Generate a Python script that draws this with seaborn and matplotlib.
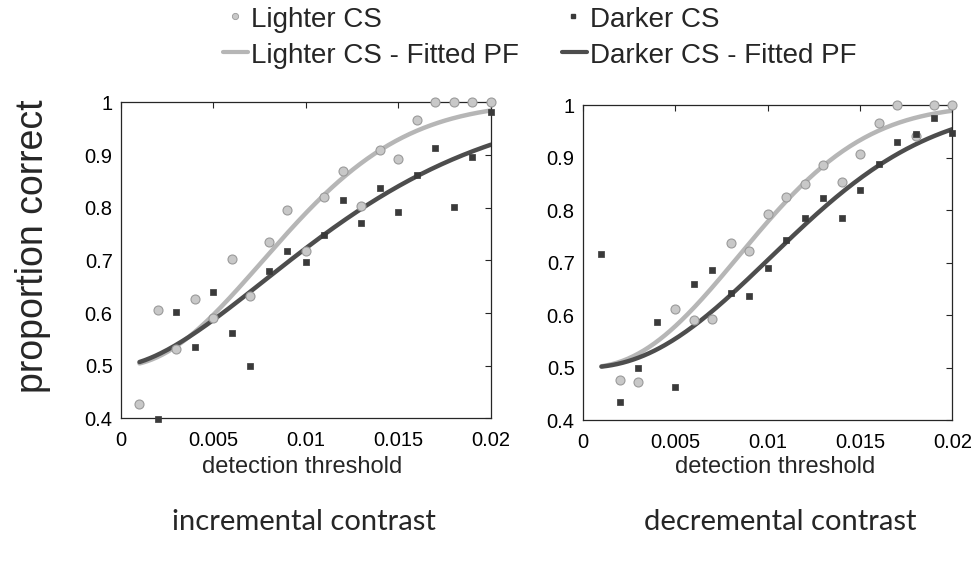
import numpy as np
import pandas as pd
import matplotlib
matplotlib.use("Agg")
import matplotlib.pyplot as plt
import seaborn as sns
from matplotlib.ticker import FuncFormatter
from matplotlib.lines import Line2D

sns.set_style("white")
plt.rcParams['font.family'] = ['Liberation Sans', 'DejaVu Sans']

# ---- data ----
thr = [0.001, 0.002, 0.003, 0.004, 0.005, 0.006, 0.007, 0.008, 0.009, 0.010,
       0.011, 0.012, 0.013, 0.014, 0.015, 0.016, 0.017, 0.018, 0.019, 0.020]

# incremental contrast
inc_light_x = thr
inc_light_y = [0.428, 0.606, 0.532, 0.626, 0.591, 0.703, 0.633, 0.735, 0.796, 0.718,
               0.820, 0.870, 0.804, 0.910, 0.892, 0.966, 1.0, 1.0, 1.0, 1.0]
inc_dark_x = thr[1:]
inc_dark_y = [0.398, 0.601, 0.536, 0.639, 0.562, 0.500, 0.680, 0.718, 0.697,
              0.748, 0.814, 0.771, 0.837, 0.792, 0.862, 0.914, 0.801, 0.897, 0.982]

# decremental contrast
dec_light_x = [0.002, 0.003, 0.005, 0.006, 0.007, 0.008, 0.009, 0.010,
               0.011, 0.012, 0.013, 0.014, 0.015, 0.016, 0.017, 0.018, 0.019, 0.020]
dec_light_y = [0.476, 0.473, 0.611, 0.591, 0.592, 0.738, 0.721, 0.792,
               0.824, 0.850, 0.886, 0.853, 0.906, 0.966, 1.0, 0.941, 1.0, 1.0]
dec_dark_x = thr
dec_dark_y = [0.717, 0.435, 0.500, 0.586, 0.463, 0.660, 0.685, 0.641, 0.636, 0.690,
              0.742, 0.784, 0.822, 0.784, 0.838, 0.887, 0.929, 0.945, 0.976, 0.946]

# fitted Weibull psychometric functions (alpha, beta), guess rate 0.5
inc_light_fit = (0.01073, 2.01)
inc_dark_fit = (0.0138, 1.63)
dec_light_fit = (0.01098, 2.24)
dec_dark_fit = (0.01342, 2.18)

xticks = [0, 0.005, 0.01, 0.015, 0.02]
yticks = [0.4, 0.5, 0.6, 0.7, 0.8, 0.9, 1.0]
panel_titles = ["incremental contrast", "decremental contrast"]
legend_labels = ["Lighter CS", "Darker CS", "Lighter CS - Fitted PF", "Darker CS - Fitted PF"]

LIGHT_FACE = "#c8c8c8"
LIGHT_EDGE = "#9a9a9a"
DARK_MARK = "#3a3a3a"
LIGHT_LINE = "#b6b6b6"
DARK_LINE = "#4d4d4d"


def weibull(x, alpha, beta):
    x = np.asarray(x)
    return 0.5 + 0.5 * (1 - np.exp(-(x / alpha) ** beta))


fig = plt.figure(figsize=(9.78, 5.61), dpi=100)
ax1 = fig.add_axes([0.1237, 0.2544, 0.3783, 0.5629])
ax2 = fig.add_axes([0.5961, 0.2513, 0.3778, 0.5615])

panels = [
    (ax1, inc_light_x, inc_light_y, inc_dark_x, inc_dark_y, inc_light_fit, inc_dark_fit),
    (ax2, dec_light_x, dec_light_y, dec_dark_x, dec_dark_y, dec_light_fit, dec_dark_fit),
]

for ax, lx, ly, dx, dy, lfit, dfit in panels:
    xs = np.linspace(0.001, 0.02, 200)
    fit_df = pd.DataFrame({
        "x": np.concatenate([xs, xs]),
        "y": np.concatenate([weibull(xs, *lfit), weibull(xs, *dfit)]),
        "s": ["light"] * len(xs) + ["dark"] * len(xs),
    })
    sns.lineplot(data=fit_df, x="x", y="y", hue="s",
                 palette={"light": LIGHT_LINE, "dark": DARK_LINE},
                 linewidth=3.2, ax=ax, legend=False, zorder=2)
    sns.scatterplot(x=lx, y=ly, ax=ax, marker="o", s=42, color=LIGHT_FACE,
                    edgecolor=LIGHT_EDGE, linewidth=0.8, zorder=3, clip_on=False)
    sns.scatterplot(x=dx, y=dy, ax=ax, marker="s", s=20, color=DARK_MARK,
                    edgecolor=DARK_MARK, linewidth=0.5, zorder=4, clip_on=False)

    ax.set_xlim(0, 0.02)
    ax.set_ylim(0.4, 1.0)
    ax.set_xticks(xticks)
    ax.set_yticks(yticks)
    ax.xaxis.set_major_formatter(FuncFormatter(lambda v, p: "%g" % round(v, 4)))
    ax.yaxis.set_major_formatter(FuncFormatter(lambda v, p: "%g" % round(v, 2)))
    ax.tick_params(direction="in", length=4, width=0.8, top=True, right=True,
                   labelsize=14.5, colors="#262626", labelcolor="black")
    ax.tick_params(axis="x", pad=9)
    ax.tick_params(axis="y", pad=6)
    for sp in ax.spines.values():
        sp.set_visible(True)
        sp.set_color("#262626")
        sp.set_linewidth(0.9)
    ax.set_xlabel("")
    ax.set_ylabel("")

# labels
fig.text(0.034, 0.561, "proportion correct", rotation=90, ha="center", va="center",
         fontsize=27)
fig.text(0.3088, 0.168, "detection threshold", ha="center", va="center", fontsize=17)
fig.text(0.7924, 0.168, "detection threshold", ha="center", va="center", fontsize=17)
fig.text(0.311, 0.069, panel_titles[0], ha="center", va="center", fontsize=21,
         family=["Lato", "DejaVu Sans"])
fig.text(0.7975, 0.069, panel_titles[1], ha="center", va="center", fontsize=21,
         family=["Lato", "DejaVu Sans"])

# legend (MATLAB-style), drawn with figure-coordinate handles
W, H = 978.0, 561.0
row1_base, row2_base = 1 - 26.7 / H, 1 - 63.0 / H
row1_mid, row2_mid = 1 - 15.7 / H, 1 - 52.0 / H
col_text = [251 / W, 590 / W]
fig.add_artist(Line2D([235 / W], [row1_mid], ls="none", marker="o", markersize=4.5,
                      markerfacecolor=LIGHT_FACE, markeredgecolor=LIGHT_EDGE,
                      markeredgewidth=0.6, transform=fig.transFigure))
fig.add_artist(Line2D([573 / W], [row1_mid], ls="none", marker="s", markersize=3.2,
                      color=DARK_MARK, transform=fig.transFigure))
fig.add_artist(Line2D([223 / W, 248 / W], [row2_mid, row2_mid], color=LIGHT_LINE, lw=3,
                      transform=fig.transFigure))
fig.add_artist(Line2D([562 / W, 587 / W], [row2_mid, row2_mid], color=DARK_LINE, lw=3,
                      transform=fig.transFigure))
fig.text(col_text[0], row1_base, legend_labels[0], fontsize=20, va="baseline")
fig.text(col_text[1], row1_base, legend_labels[1], fontsize=20, va="baseline")
fig.text(col_text[0], row2_base, legend_labels[2], fontsize=20, va="baseline")
fig.text(col_text[1], row2_base, legend_labels[3], fontsize=20, va="baseline")

fig.savefig("out.png", dpi=100)
